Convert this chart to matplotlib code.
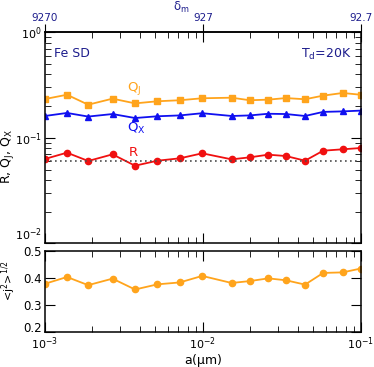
import numpy as np
import matplotlib.pyplot as plt

# grain sizes (micron)
a = [0.001, 0.00138, 0.00188, 0.00268, 0.00372, 0.00516, 0.00714, 0.0099,
     0.0152, 0.0198, 0.0259, 0.0335, 0.0443, 0.0577, 0.0766, 0.0995]
R = [0.0630, 0.0723, 0.0603, 0.0697, 0.0544, 0.0607, 0.0639, 0.0713,
     0.0625, 0.0653, 0.0692, 0.0672, 0.0607, 0.0755, 0.0778, 0.0800]
QJ = [0.233, 0.256, 0.206, 0.235, 0.212, 0.222, 0.227, 0.237,
      0.240, 0.227, 0.230, 0.238, 0.232, 0.251, 0.266, 0.256]
QX = [0.161, 0.172, 0.159, 0.168, 0.154, 0.160, 0.163, 0.171,
      0.161, 0.163, 0.169, 0.168, 0.161, 0.176, 0.178, 0.181]
j2 = [0.378, 0.403, 0.373, 0.397, 0.357, 0.376, 0.383, 0.407,
      0.381, 0.388, 0.398, 0.391, 0.375, 0.418, 0.420, 0.434]
R_ref = 0.06

navy = '#1c1c8c'
orange = '#ffa41c'
blue = '#1010f0'
red = '#f01010'

plt.rcParams['font.size'] = 8
plt.rcParams['axes.linewidth'] = 1.1

fig = plt.figure(figsize=(3.74, 3.67), dpi=100)
ax1 = fig.add_axes([0.120, 0.337, 0.845, 0.575])
ax2 = fig.add_axes([0.120, 0.095, 0.845, 0.222])

ax1.plot(a, QJ, '-s', color=orange, ms=4.5, lw=1.3)
ax1.plot(a, QX, '-^', color=blue, ms=4.5, lw=1.3)
ax1.plot(a, R, '-o', color=red, ms=4.5, lw=1.3)
ax1.axhline(R_ref, color='0.3', ls=(0, (1, 2)), lw=1.2)

ax1.set_xscale('log')
ax1.set_yscale('log')
ax1.set_xlim(1e-3, 1e-1)
ax1.set_ylim(1e-2, 1)
ax1.set_yticks([1e-2, 1e-1, 1])
ax1.tick_params(which='both', direction='in', top=True, right=True)
ax1.tick_params(which='major', length=7, pad=2)
ax1.tick_params(which='minor', length=4)
ax1.tick_params(axis='x', labelbottom=False)
ax1.get_yticklabels()[0].set_va('bottom')
ax1.set_ylabel(r'R, Q$_\mathrm{J}$, Q$_\mathrm{X}$', fontsize=9)
ax1.yaxis.set_label_coords(-0.09, 0.41)

ax1.text(0.0033, 0.296, r'Q$_\mathrm{J}$', color=orange, fontsize=9.5, va='center')
ax1.text(0.0033, 0.124, r'Q$_\mathrm{X}$', color=blue, fontsize=9.5, va='center')
ax1.text(0.0034, 0.0733, 'R', color=red, fontsize=9.5, va='center')
ax1.text(0.03, 0.93, 'Fe SD', color=navy, fontsize=9, transform=ax1.transAxes, va='top')
ax1.text(0.97, 0.93, r'T$_\mathrm{d}$=20K', color=navy, fontsize=9,
         transform=ax1.transAxes, va='top', ha='right')

sec = ax1.secondary_xaxis('top', functions=(lambda x: 9.27 / x, lambda d: 9.27 / d))
sec.set_xticks([9270, 927, 92.7])
sec.set_xticklabels(['9270', '927', '92.7'], color=navy, fontsize=7.5)
sec.xaxis.set_minor_locator(plt.NullLocator())
sec.tick_params(direction='out', length=6, pad=1)
fig.text(181 / 374, 1 - 7 / 367, r'$\mathrm{\delta}_\mathrm{m}$', color=navy,
         fontsize=8.5, ha='center', va='center')

ax2.plot(a, j2, '-o', color=orange, ms=4.5, lw=1.3)
ax2.set_xscale('log')
ax2.set_xlim(1e-3, 1e-1)
ax2.set_ylim(0.2, 0.5)
ax2.set_yticks([0.2, 0.3, 0.4, 0.5])
ax2.tick_params(which='both', direction='in', top=True, right=True)
ax2.tick_params(which='major', length=7, pad=2)
ax2.tick_params(which='minor', length=4)
ax2.tick_params(axis='y', labelsize=8.5)
ax2.get_yticklabels()[0].set_va('baseline')
ax2.set_xlabel(r'a($\mathrm{\mu}$m)', fontsize=9, labelpad=0)
ax2.set_ylabel(r'<j$^2$>$^{1/2}$', fontsize=8)
ax2.yaxis.set_label_coords(-0.085, 0.63)

fig.savefig('out.png', dpi=100)
